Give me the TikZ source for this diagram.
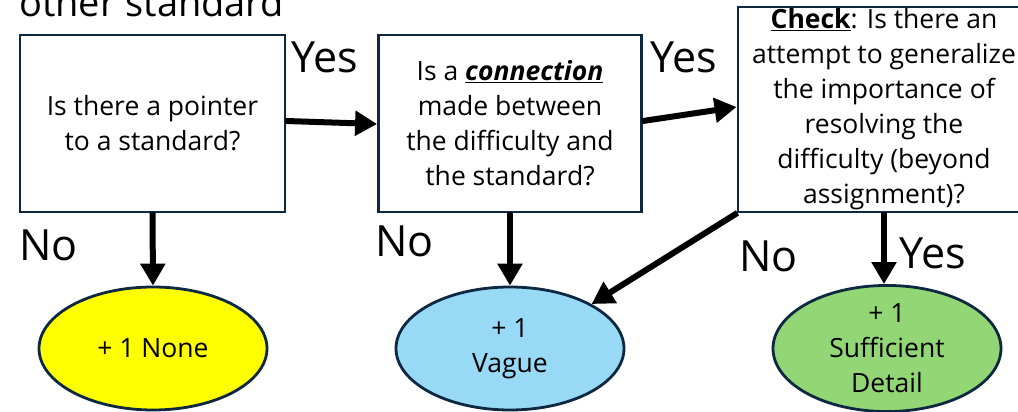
\documentclass[tikz,border=0pt]{standalone}
\usepackage{fontspec}
\setmainfont{Open Sans}
\usetikzlibrary{arrows.meta,shapes.geometric}
\definecolor{navy}{RGB}{14,40,65}
\definecolor{ylw}{RGB}{255,255,0}
\definecolor{skyb}{RGB}{152,217,245}
\definecolor{lgreen}{RGB}{146,214,117}
\tikzset{
  qbox/.style={draw=navy, line width=2.8pt, fill=white, rectangle, align=center, inner sep=0pt,
    font=\fontsize{26.5}{35}\selectfont},
  result/.style={draw=navy, line width=2.8pt, ellipse, minimum width=228pt, minimum height=123pt,
    inner sep=0pt, align=center, font=\fontsize{26.5}{35}\selectfont},
  big/.style={inner sep=0pt, anchor=base west, font=\fontsize{43}{43}\selectfont},
  flow/.style={line width=6pt, draw=black, -{Triangle[length=22pt,width=24pt]}, shorten <=-1pt}
}
\begin{document}
\begin{tikzpicture}[x=1pt,y=-1pt]
\useasboundingbox (0,0) rectangle (1018,412);
\clip (0,0) rectangle (1018,412);
\fill[white] (0,0) rectangle (1018,412);
\node[big, font=\fontsize{38}{38}\selectfont] (top) at (19,17) {other standard};
\node[qbox, minimum width=265pt, minimum height=177pt] (b1) at (152.5,123.5) {Is there a pointer\\to a standard?};
\node[qbox, minimum width=263pt, minimum height=177pt] (b2) at (510,123.5) {Is a \underline{\textbf{\textit{connection}}}\\made between\\the difficulty and\\the standard?};
\node[qbox, minimum width=292pt, minimum height=205pt] (b3) at (884,109.5) {\underline{\textbf{Check}}: Is there an\\attempt to generalize\\the importance of\\resolving the\\difficulty (beyond\\assignment)?};
\node[result, fill=ylw] (e1) at (153,348.5) {+ 1 None};
\node[result, fill=skyb] (e2) at (510,348.5) {+ 1\\Vague};
\node[result, fill=lgreen] (e3) at (887,348.5) {+ 1\\Sufficient\\Detail};
\node[big] (y1) at (291,73) {Yes};
\node[big] (y2) at (650,73) {Yes};
\node[big] (n1) at (19,260) {No};
\node[big] (n2) at (375,256) {No};
\node[big] (n3) at (739,271) {No};
\node[big] (y3) at (899,268) {Yes};
\coordinate (a1s) at ([yshift=2.5pt]b1.east);
\coordinate (a1e) at ([yshift=-0.5pt]b2.west);
\draw[flow] (a1s) -- (a1e);
\coordinate (a2s) at ([yshift=2.5pt]b2.east);
\coordinate (a2e) at ([yshift=2.5pt]b3.west);
\draw[flow] (a2s) -- (a2e);
\draw[flow] (b1.south) -- (e1.north);
\draw[flow] (b2.south) -- (e2.north);
\coordinate (a3s) at (b3.south west);
\draw[flow] (a3s) -- (e2.north east);
\coordinate (a4s) at (b3.south);
\draw[flow] (a4s) -- (e3.north -| a4s);
\end{tikzpicture}
\end{document}
